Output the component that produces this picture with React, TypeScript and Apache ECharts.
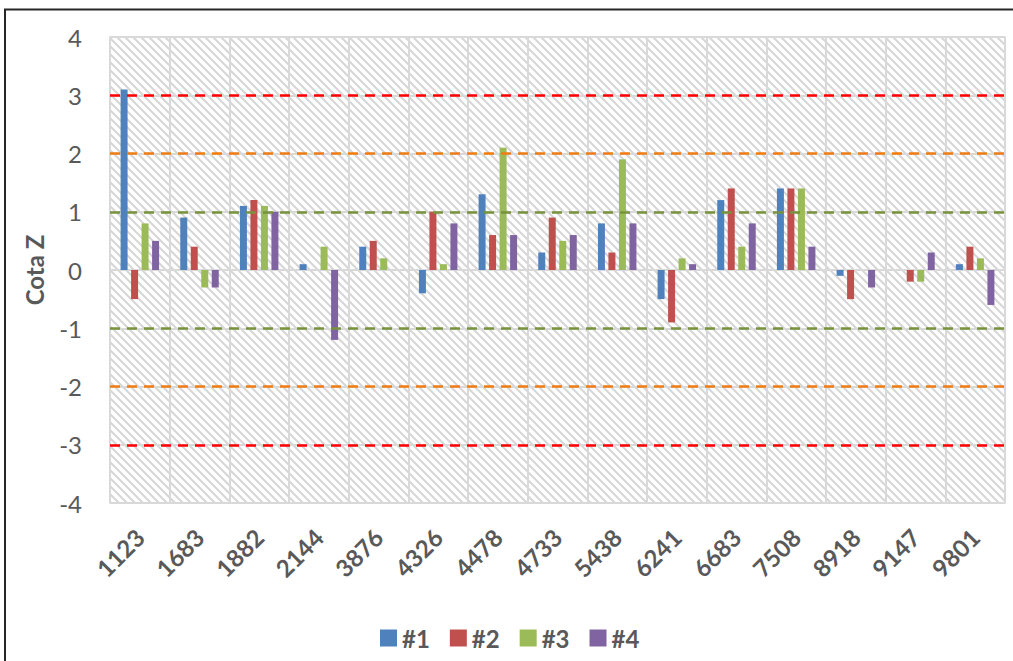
import React, { useEffect, useRef } from "react";
import * as echarts from "echarts";

const categories = ["1123", "1683", "1882", "2144", "3876", "4326", "4478", "4733", "5438", "6241", "6683", "7508", "8918", "9147", "9801"];
const s1 = [3.1, 0.9, 1.1, 0.1, 0.4, -0.4, 1.3, 0.3, 0.8, -0.5, 1.2, 1.4, -0.1, 0, 0.1];
const s2 = [-0.5, 0.4, 1.2, 0, 0.5, 1.0, 0.6, 0.9, 0.3, -0.9, 1.4, 1.4, -0.5, -0.2, 0.4];
const s3 = [0.8, -0.3, 1.1, 0.4, 0.2, 0.1, 2.1, 0.5, 1.9, 0.2, 0.4, 1.4, 0, -0.2, 0.2];
const s4 = [0.5, -0.3, 1.0, -1.2, 0, 0.8, 0.6, 0.6, 0.8, 0.1, 0.8, 0.4, -0.3, 0.3, -0.6];
const seriesNames = ["#1", "#2", "#3", "#4"];
const seriesColors = ["#4f81bd", "#c0504d", "#9bbb59", "#8064a2"];
const limitLines = [
  { value: 3, color: "#ff0000" },
  { value: -3, color: "#ff0000" },
  { value: 2, color: "#f07c14" },
  { value: -2, color: "#f07c14" },
  { value: 1, color: "#77933c" },
  { value: -1, color: "#77933c" },
];

const FONT = "Lato";

function makeTile() {
  const c = document.createElement("canvas");
  c.width = 8;
  c.height = 8;
  const ctx = c.getContext("2d");
  if (ctx) {
    ctx.fillStyle = "#ffffff";
    ctx.fillRect(0, 0, 8, 8);
    ctx.strokeStyle = "#d6d6d6";
    ctx.lineWidth = 2;
    ctx.beginPath();
    ctx.moveTo(-2, -2);
    ctx.lineTo(10, 10);
    ctx.moveTo(6, -2);
    ctx.lineTo(10, 2);
    ctx.moveTo(-2, 6);
    ctx.lineTo(2, 10);
    ctx.stroke();
  }
  return c;
}

export default function App() {
  const ref = useRef<HTMLDivElement>(null);
  useEffect(() => {
    if (!ref.current) return;
    const chart = echarts.init(ref.current, null, { renderer: "svg" });
    const data = [s1, s2, s3, s4];
    const tile = makeTile();
    chart.setOption({
      animation: false,
      backgroundColor: "#ffffff",
      textStyle: { fontFamily: FONT },
      graphic: [
        {
          type: "line",
          shape: { x1: 4, y1: 9.5, x2: 1013, y2: 9.5 },
          style: { stroke: "#262626", lineWidth: 2 },
          silent: true,
          z: 10,
        },
        {
          type: "line",
          shape: { x1: 5, y1: 9, x2: 5, y2: 661 },
          style: { stroke: "#262626", lineWidth: 2 },
          silent: true,
          z: 10,
        },
      ],
      grid: {
        left: 110,
        right: 8,
        top: 37,
        bottom: 158,
        show: true,
        backgroundColor: { image: tile, repeat: "repeat" },
        borderColor: "#d9d9d9",
        borderWidth: 1.5,
      },
      legend: {
        left: 375,
        bottom: 6,
        itemWidth: 17,
        itemHeight: 17,
        itemGap: 20,
        icon: "rect",
        data: seriesNames,
        textStyle: { fontSize: 24, fontWeight: "bold", color: "#595959", fontFamily: FONT },
      },
      xAxis: {
        type: "category",
        data: categories,
        axisLine: { show: false },
        axisTick: { show: false },
        splitLine: { show: true, lineStyle: { color: "#d9d9d9", width: 2 } },
        axisLabel: {
          rotate: 45,
          interval: 0,
          margin: 30,
          fontSize: 24,
          fontWeight: "bold",
          color: "#595959",
          fontFamily: FONT,
        },
      },
      yAxis: {
        type: "value",
        min: -4,
        max: 4,
        interval: 1,
        name: "Cota Z",
        nameLocation: "middle",
        nameGap: 64,
        nameTextStyle: { fontSize: 24, fontWeight: "bold", color: "#595959", fontFamily: FONT },
        axisLine: { show: false },
        axisTick: { show: false },
        axisLabel: { fontSize: 24, color: "#595959", margin: 28, fontFamily: FONT },
        splitLine: { show: true, lineStyle: { color: "#d9d9d9", width: 2 } },
      },
      series: seriesNames.map((name, i) => ({
        name,
        type: "bar",
        data: data[i],
        barWidth: 7,
        barGap: "50%",
        itemStyle: { color: seriesColors[i] },
        markLine:
          i === 0
            ? {
                silent: true,
                symbol: "none",
                label: { show: false },
                z: 10,
                data: limitLines.map((l) => ({
                  yAxis: l.value,
                  lineStyle: { color: l.color, type: [10, 7], width: 2.5 },
                })),
              }
            : undefined,
      })),
    });
    return () => chart.dispose();
  }, []);
  return (
    <div
      ref={ref}
      style={{ position: "fixed", left: 0, top: 0, width: 1013, height: 661 }}
    />
  );
}
